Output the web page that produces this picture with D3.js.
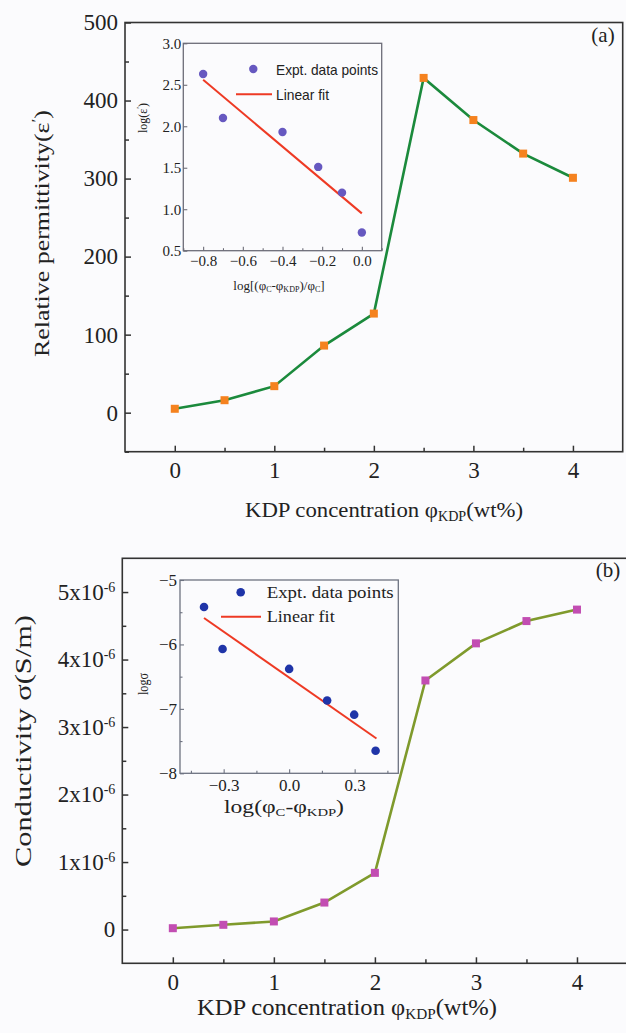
<!DOCTYPE html>
<html>
<head>
<meta charset="utf-8">
<script src="https://cdn.jsdelivr.net/npm/d3@7"></script>
<style>
  body { margin: 0; background: #fbfbfd; }
  svg { display: block; }
</style>
</head>
<body>
<div id="chart"></div>
<script>
// Data
const kdpConc = [0, 0.5, 1, 1.5, 2, 2.5, 3, 3.5, 4]
const permittivity = [5, 16, 34, 86, 127, 429, 375, 332, 301]
const conductivity = [0.02e-6, 0.07e-6, 0.12e-6, 0.40e-6, 0.84e-6, 3.69e-6, 4.24e-6, 4.57e-6, 4.74e-6]

const insetAX = [-0.8, -0.7, -0.4, -0.22, -0.1, 0.0]
const insetAY = [2.63, 2.10, 1.93, 1.51, 1.20, 0.72]
const insetAFit = [[-0.8, 2.56], [0.0, 0.95]]

const insetBX = [-0.39, -0.305, 0.0, 0.174, 0.298, 0.396]
const insetBY = [-5.42, -6.07, -6.38, -6.87, -7.09, -7.65]
const insetBFit = [[-0.39, -5.59], [0.40, -7.46]]

const mainXTicks = [0, 1, 2, 3, 4]
const mainXMinor = [0.5, 1.5, 2.5, 3.5]
const permTicks = [0, 100, 200, 300, 400, 500]
const permMinor = [-50, 50, 150, 250, 350, 450]
const condTicks = [0, 1e-6, 2e-6, 3e-6, 4e-6, 5e-6]
const condMinor = [0.5e-6, 1.5e-6, 2.5e-6, 3.5e-6, 4.5e-6]
const insetAXTicks = [-0.8, -0.6, -0.4, -0.2, 0.0]
const insetAXMinor = [-0.9, -0.7, -0.5, -0.3, -0.1, 0.1]
const insetAYTicks = [0.5, 1.0, 1.5, 2.0, 2.5, 3.0]
const insetBXTicks = [-0.3, 0.0, 0.3]
const insetBXMinor = [-0.45, -0.15, 0.15, 0.45]
const insetBYTicks = [-8, -7, -6, -5]
const insetBYMinor = [-7.5, -6.5, -5.5]

const W = 626, H = 1033
const bg = '#fbfbfd'
const SERIF = 'Liberation Serif'
const SANS = 'Liberation Sans'

const svg = d3.select('#chart').append('svg')
  .attr('width', W).attr('height', H)
  .style('font-family', SERIF)

svg.append('rect').attr('width', W).attr('height', H).attr('fill', bg)

const txt = (g, x, y, size, font) => g.append('text')
  .attr('x', x).attr('y', y)
  .style('font-family', font || SERIF).style('font-size', size + 'px')
  .attr('fill', '#222')

// Draws a framed box with inward ticks on bottom and left
const drawAxes = (g, x, y, opts) => {
  const [x0, x1] = x.range()
  const [y0, y1] = y.range()
  g.append('rect')
    .attr('x', x0).attr('y', y1)
    .attr('width', x1 - x0).attr('height', y0 - y1)
    .attr('fill', opts.fill || 'none')
    .attr('stroke', opts.frame).attr('stroke-width', opts.frameWidth)

  const xa = g.append('g').attr('transform', `translate(0,${y0})`)
    .call(d3.axisBottom(x).tickValues(opts.xTicks).tickSize(-opts.major)
      .tickPadding(opts.xPad).tickFormat(opts.xFormat))
  const xm = g.append('g').attr('transform', `translate(0,${y0})`)
    .call(d3.axisBottom(x).tickValues(opts.xMinor).tickSize(-opts.minor).tickFormat(''))
  const ya = g.append('g').attr('transform', `translate(${x0},0)`)
    .call(d3.axisLeft(y).tickValues(opts.yTicks).tickSize(-opts.major)
      .tickPadding(opts.yPad).tickFormat(opts.yFormat))
  const ym = g.append('g').attr('transform', `translate(${x0},0)`)
    .call(d3.axisLeft(y).tickValues(opts.yMinor).tickSize(-opts.minor).tickFormat(''))

  ;[xa, xm, ya, ym].forEach(a => {
    a.attr('font-family', null).attr('font-size', null)
    a.select('.domain').remove()
    a.selectAll('line').attr('stroke', opts.frame).attr('stroke-width', opts.tickWidth)
    a.selectAll('text')
      .attr('fill', '#222')
      .style('font-family', SERIF)
      .style('font-size', opts.fontSize + 'px')
  })
  return { xa, ya }
}

// Adds tspans; parts = [[text, 'n'|'sub'|'sup'], ...]
const richText = (sel, parts, size) => {
  parts.forEach(([t, k]) => {
    const ts = sel.append('tspan').text(t).style('font-family', SERIF)
    if (k === 'sub') ts.style('font-size', (size * 0.62) + 'px').attr('baseline-shift', '-28%')
    else if (k === 'sup') ts.style('font-size', (size * 0.7) + 'px').attr('baseline-shift', '45%')
    else ts.style('font-size', size + 'px')
  })
  return sel
}

const fit = (sel, len) => sel.attr('textLength', len).attr('lengthAdjust', 'spacingAndGlyphs')

// ---------- Panel (a) ----------
const xA = d3.scaleLinear([-0.5, 4.5], [125, 622.7])
const yA = d3.scaleLinear([-50, 500], [451.7, 22.5])
const gA = svg.append('g')
drawAxes(gA, xA, yA, {
  frame: '#333', frameWidth: 1.6, tickWidth: 1.5, major: 6, minor: 4,
  xTicks: mainXTicks, xMinor: mainXMinor, yTicks: permTicks, yMinor: permMinor,
  xPad: 10, yPad: 7, fontSize: 23, xFormat: d3.format('d'), yFormat: d3.format('d')
})

gA.append('path')
  .datum(kdpConc.map((c, i) => [c, permittivity[i]]))
  .attr('fill', 'none').attr('stroke', '#1b8a3c').attr('stroke-width', 2.6)
  .attr('d', d3.line().x(d => xA(d[0])).y(d => yA(d[1])))
gA.selectAll('.sqA').data(kdpConc).enter().append('rect')
  .attr('class', 'sqA')
  .attr('x', (d) => xA(d) - 4).attr('y', (d, i) => yA(permittivity[i]) - 4)
  .attr('width', 8).attr('height', 8).attr('fill', '#f5821f')

txt(gA, 603, 42, 21).attr('text-anchor', 'middle').text('(a)')

fit(richText(txt(gA, 245, 517, 22),
  [['KDP concentration \u03c6', 'n'], ['KDP', 'sub'], ['(wt%)', 'n']], 22), 278)

fit(richText(txt(gA, 0, 0, 22).attr('transform', 'translate(49,357) rotate(-90)'),
  [['Relative permittivity(\u03b5', 'n'], ['\u2032', 'sup'], [')', 'n']], 22), 247)

// Inset (a)
const ixA = d3.scaleLinear([-0.9, 0.1], [183.3, 381.7])
const iyA = d3.scaleLinear([0.5, 3.0], [250.7, 43.3])
const iA = svg.append('g')
drawAxes(iA, ixA, iyA, {
  frame: '#6d6d78', frameWidth: 1.3, tickWidth: 1.1, major: 4, minor: 2.5, fill: bg,
  xTicks: insetAXTicks, xMinor: insetAXMinor, yTicks: insetAYTicks, yMinor: [],
  xPad: 5, yPad: 2, fontSize: 15, xFormat: d3.format('.1f'), yFormat: d3.format('.1f')
})
iA.append('line')
  .attr('x1', ixA(insetAFit[0][0])).attr('y1', iyA(insetAFit[0][1]))
  .attr('x2', ixA(insetAFit[1][0])).attr('y2', iyA(insetAFit[1][1]))
  .attr('stroke', '#ee3a24').attr('stroke-width', 2)
iA.selectAll('circle').data(insetAX).enter().append('circle')
  .attr('cx', d => ixA(d)).attr('cy', (d, i) => iyA(insetAY[i]))
  .attr('r', 4.2).attr('fill', '#6658c0')
iA.append('circle').attr('cx', 253.3).attr('cy', 69).attr('r', 4.2).attr('fill', '#6658c0')
fit(txt(iA, 276, 75, 15, SANS), 102).text('Expt. data points')
iA.append('line').attr('x1', 236).attr('x2', 272).attr('y1', 94.3).attr('y2', 94.3)
  .attr('stroke', '#ee3a24').attr('stroke-width', 2)
fit(txt(iA, 276, 100, 15, SANS), 53).text('Linear fit')
richText(txt(iA, 279, 290, 13).attr('text-anchor', 'middle'),
  [['log[(\u03c6', 'n'], ['C', 'sub'], ['-\u03c6', 'n'], ['KDP', 'sub'], [')/\u03c6', 'n'], ['C', 'sub'], [']', 'n']], 13)
fit(richText(txt(iA, 0, 0, 13).attr('transform', 'translate(147,133) rotate(-90)'),
  [['log(\u03b5', 'n'], ['\u2032', 'sup'], [')', 'n']], 13), 30)

// ---------- Panel (b) ----------
const xB = d3.scaleLinear([-0.5, 4.5], [122.3, 627.5])
const yB = d3.scaleLinear([-0.5e-6, 5.5e-6], [963.3, 558.3])
const gB = svg.append('g')
const axB = drawAxes(gB, xB, yB, {
  frame: '#333', frameWidth: 1.6, tickWidth: 1.5, major: 6, minor: 4,
  xTicks: mainXTicks, xMinor: mainXMinor, yTicks: condTicks, yMinor: condMinor,
  xPad: 10, yPad: 7, fontSize: 23, xFormat: d3.format('d'), yFormat: d => d === 0 ? '0' : ''
})
// scientific tick labels: "n x10^-6"
axB.ya.selectAll('.tick text').each(function (d) {
  if (d === 0) return
  const t = d3.select(this)
  t.append('tspan').text(Math.round(d * 1e6) + 'x10').style('font-family', SERIF)
  t.append('tspan').text('-6').style('font-family', SERIF).style('font-size', '14px').attr('baseline-shift', '55%')
})

gB.append('path')
  .datum(kdpConc.map((c, i) => [c, conductivity[i]]))
  .attr('fill', 'none').attr('stroke', '#7f9a2c').attr('stroke-width', 2.6)
  .attr('d', d3.line().x(d => xB(d[0])).y(d => yB(d[1])))
gB.selectAll('.sqB').data(kdpConc).enter().append('rect')
  .attr('class', 'sqB')
  .attr('x', (d) => xB(d) - 4).attr('y', (d, i) => yB(conductivity[i]) - 4)
  .attr('width', 8).attr('height', 8).attr('fill', '#c24db2')

txt(gB, 608, 577, 21).attr('text-anchor', 'middle').text('(b)')

fit(richText(txt(gB, 197, 1015, 23),
  [['KDP concentration \u03c6', 'n'], ['KDP', 'sub'], ['(wt%)', 'n']], 23), 300)

fit(richText(txt(gB, 0, 0, 23).attr('transform', 'translate(31,867) rotate(-90)'),
  [['Conductivity \u03c3(S/m)', 'n']], 23), 252)

// Inset (b)
const ixB = d3.scaleLinear([-0.5, 0.5], [180, 398.3])
const iyB = d3.scaleLinear([-8, -5], [773.3, 580])
const iB = svg.append('g')
drawAxes(iB, ixB, iyB, {
  frame: '#6d7280', frameWidth: 1.3, tickWidth: 1.1, major: 4, minor: 2.5, fill: bg,
  xTicks: insetBXTicks, xMinor: insetBXMinor, yTicks: insetBYTicks, yMinor: insetBYMinor,
  xPad: 6, yPad: 3, fontSize: 17, xFormat: d3.format('.1f'), yFormat: d3.format('d')
})
iB.append('line')
  .attr('x1', ixB(insetBFit[0][0])).attr('y1', iyB(insetBFit[0][1]))
  .attr('x2', ixB(insetBFit[1][0])).attr('y2', iyB(insetBFit[1][1]))
  .attr('stroke', '#ee3a24').attr('stroke-width', 2)
iB.selectAll('circle').data(insetBX).enter().append('circle')
  .attr('cx', d => ixB(d)).attr('cy', (d, i) => iyB(insetBY[i]))
  .attr('r', 4.3).attr('fill', '#1f34a8')
iB.append('circle').attr('cx', 240.7).attr('cy', 592.3).attr('r', 4.3).attr('fill', '#1f34a8')
fit(txt(iB, 266.7, 598, 17), 127).text('Expt. data  points')
iB.append('line').attr('x1', 221).attr('x2', 261).attr('y1', 616.7).attr('y2', 616.7)
  .attr('stroke', '#ee3a24').attr('stroke-width', 2)
fit(txt(iB, 266.7, 622, 17), 68).text('Linear fit')
fit(richText(txt(iB, 224, 813, 18),
  [['log(\u03c6', 'n'], ['C', 'sub'], ['-\u03c6', 'n'], ['KDP', 'sub'], [')', 'n']], 18), 120)
fit(richText(txt(iB, 0, 0, 14).attr('transform', 'translate(148,695) rotate(-90)'),
  [['log\u03c3', 'n']], 14), 22)
</script>
</body>
</html>
